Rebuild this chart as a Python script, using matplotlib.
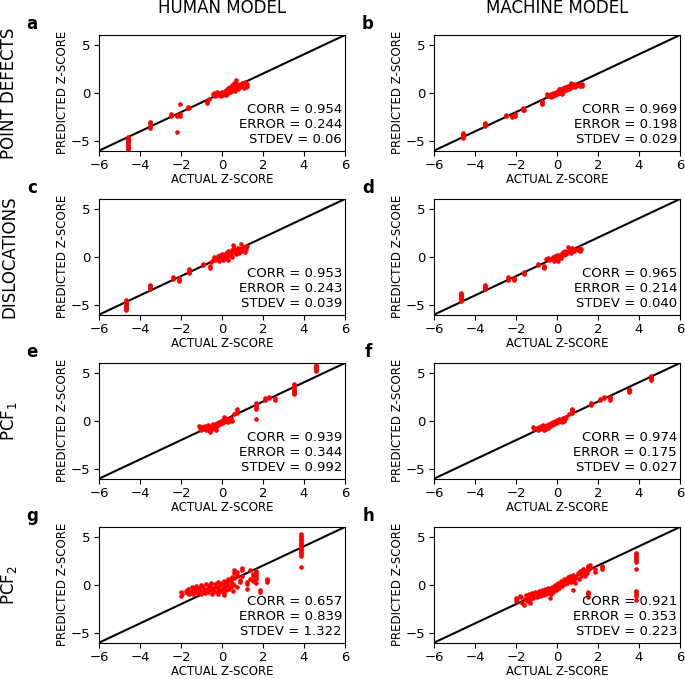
#!/usr/bin/python3
# -*- coding: utf-8 -*-

#=========================# Required libraries ===========================================================
import numpy as np
import matplotlib
matplotlib.use("Agg")
import matplotlib.pyplot as plt
#======================================================================================================

# Data (actual z-score, predicted z-score) =============================================================
# a: point defects, human model
pts_a = [(-4.6, -4.6), (-4.6, -4.7), (-4.6, -4.8), (-4.6, -4.9), (-4.6, -5.0), (-4.6, -5.1), (-4.6, -5.2),
         (-4.6, -5.3), (-4.6, -5.4), (-4.6, -5.5), (-4.6, -5.6), (-4.6, -5.7), (-4.6, -5.8), (-4.6, -5.9),
         (-4.6, -6.0), (-3.5, -3.0), (-3.5, -3.15), (-3.5, -3.45), (-3.5, -3.6), (-2.5, -2.2), (-2.5, -2.35),
         (-2.2, -2.3), (-2.2, -2.4), (-2.2, -4.1), (-2.05, -2.2), (-2.05, -2.35), (-2.05, -1.2),
         (-1.65, -1.45), (-1.65, -1.55), (-1.6, -1.6), (-0.75, -0.85), (-0.75, -1.0), (-0.75, -1.1),
         (-0.65, -0.6), (-0.45, -0.1), (-0.4, 0.0), (-0.35, -0.3), (-0.3, -0.2), (-0.25, 0.1), (-0.2, -0.1),
         (-0.15, -0.25), (-0.1, 0.0), (-0.05, -0.3), (0.0, 0.1), (0.0, -0.2), (0.05, 0.0), (0.1, -0.1),
         (0.15, 0.2), (0.2, -0.2), (0.2, 0.3), (0.25, 0.1), (0.3, 0.5), (0.35, 0.2), (0.4, 0.6), (0.45, 0.3),
         (0.5, 0.8), (0.55, 0.4), (0.6, 0.5), (0.65, 0.2), (0.7, 1.3), (0.7, 0.6), (0.75, 0.9), (0.8, 0.4),
         (0.9, 0.7), (1.0, 0.8), (1.05, 0.5), (1.1, 1.1), (1.15, 0.6), (1.2, 0.9), (1.2, 0.7), (0.3, 0.0),
         (0.4, 0.1), (0.5, 0.2), (-0.1, -0.1), (0.6, 1.0), (0.8, 0.8), (0.9, 0.6), (1.0, 1.0)]
# b: point defects, machine model
pts_b = [(-4.6, -4.2), (-4.6, -4.3), (-4.6, -4.4), (-4.6, -4.5), (-4.6, -4.6), (-4.6, -4.7),
         (-3.5, -3.1), (-3.5, -3.2), (-3.5, -3.3), (-3.5, -3.4), (-2.5, -2.3), (-2.5, -2.45),
         (-2.2, -2.35), (-2.2, -2.5), (-2.05, -2.2), (-2.05, -2.35), (-1.65, -1.6), (-1.65, -1.75),
         (-1.6, -1.8), (-0.75, -0.8), (-0.75, -0.95), (-0.75, -1.1), (-0.75, -1.2), (-0.5, -0.1),
         (-0.5, -0.3), (-0.4, -0.3), (-0.3, -0.4), (-0.2, -0.3), (-0.1, -0.2), (-0.05, 0.1), (0.0, -0.1),
         (0.05, 0.2), (0.1, 0.0), (0.15, 0.3), (0.2, 0.1), (0.25, -0.1), (0.3, 0.5), (0.35, 0.2), (0.4, 0.6),
         (0.45, 0.3), (0.5, 0.5), (0.55, 0.7), (0.6, 0.4), (0.7, 1.0), (0.75, 0.6), (0.8, 0.7), (0.9, 0.6),
         (1.0, 0.8), (1.1, 0.7), (1.2, 0.9), (1.2, 0.7), (0.1, 0.4), (-0.2, 0.0), (0.3, 0.3), (0.65, 0.8),
         (0.85, 0.9), (-0.3, -0.1), (0.2, 0.4), (1.05, 0.9)]
# c: dislocations, human model
pts_c = [(-4.7, -4.5), (-4.7, -4.6), (-4.7, -4.7), (-4.7, -4.8), (-4.7, -4.9), (-4.7, -5.0), (-4.7, -5.1),
         (-4.7, -5.2), (-4.7, -5.3), (-4.7, -5.4), (-4.7, -5.5), (-3.5, -2.9), (-3.5, -3.0), (-3.5, -3.1),
         (-3.5, -3.2), (-3.5, -3.3), (-2.4, -2.1), (-2.4, -2.25), (-2.1, -2.2), (-2.1, -2.35), (-2.1, -2.5),
         (-1.6, -1.3), (-1.6, -1.45), (-1.6, -1.6), (-1.6, -1.7), (-0.95, -0.7), (-0.95, -0.8),
         (-0.6, -1.0), (-0.6, -1.15), (-0.55, -0.5), (-0.45, -0.3), (-0.4, 0.0), (-0.3, -0.2), (-0.2, 0.1),
         (-0.15, -0.4), (-0.1, 0.2), (0.0, -0.1), (0.0, 0.3), (0.05, -0.3), (0.1, 0.1), (0.15, -0.1),
         (0.2, 0.4), (0.25, 0.0), (0.3, 0.6), (0.35, 0.3), (0.4, 0.5), (0.45, 0.2), (0.5, 0.7), (0.55, 1.2),
         (0.6, 0.5), (0.65, 0.8), (0.7, 0.3), (0.75, 0.6), (0.8, 0.9), (0.85, 0.4), (0.9, 0.7), (0.95, 1.3),
         (1.0, 0.9), (1.05, 1.0), (1.1, 0.5), (1.15, 0.8), (1.2, 1.1), (0.3, -0.3), (0.5, 0.0),
         (-0.35, -0.3), (0.1, -0.2), (0.6, 0.9), (1.0, 0.6)]
# d: dislocations, machine model
pts_d = [(-4.7, -3.8), (-4.7, -3.9), (-4.7, -4.0), (-4.7, -4.1), (-4.7, -4.2), (-4.7, -4.3), (-4.7, -4.4),
         (-4.7, -4.5), (-4.7, -4.6), (-3.5, -2.9), (-3.5, -3.0), (-3.5, -3.1), (-3.5, -3.2), (-3.5, -3.3),
         (-2.4, -2.1), (-2.4, -2.25), (-2.4, -2.4), (-2.1, -2.2), (-2.1, -2.3), (-2.1, -2.4),
         (-1.6, -1.6), (-1.6, -1.7), (-1.6, -1.8), (-0.95, -0.7), (-0.95, -0.85), (-0.65, -1.0),
         (-0.65, -1.1), (-0.65, -1.2), (-0.55, -0.2), (-0.45, -0.1), (-0.4, -0.3), (-0.3, -0.2), (-0.2, 0.0),
         (-0.15, -0.4), (-0.1, 0.1), (0.0, -0.2), (0.0, 0.2), (0.05, -0.4), (0.1, 0.0), (0.15, 0.2),
         (0.2, -0.1), (0.25, 0.3), (0.3, 0.5), (0.35, 0.2), (0.4, 0.6), (0.45, 0.3), (0.5, 0.5), (0.55, 1.0),
         (0.6, 0.6), (0.65, 0.8), (0.7, 0.4), (0.8, 0.7), (0.85, 0.6), (0.9, 0.8), (1.0, 0.7), (1.05, 0.9),
         (1.1, 0.6), (1.15, 0.8), (-0.05, -0.3), (0.2, 0.3), (0.75, 0.9)]
# e: PCF1, human model
pts_e = [(4.6, 5.2), (4.6, 5.3), (4.6, 5.4), (4.6, 5.5), (4.6, 5.6), (4.6, 5.7), (4.6, 5.8),
         (3.5, 2.8), (3.5, 2.9), (3.5, 3.0), (3.5, 3.1), (3.5, 3.2), (3.5, 3.3), (3.5, 3.5), (3.5, 3.7),
         (3.5, 3.8), (2.6, 2.2), (2.6, 2.4), (2.3, 2.4), (2.3, 2.5), (2.1, 2.2), (2.1, 2.4),
         (1.65, 1.2), (1.65, 1.35), (1.65, 1.5), (1.65, 1.65), (1.65, 1.8), (1.65, 0.2), (0.75, 0.8),
         (0.75, 1.0), (0.75, 1.2), (0.6, 0.7), (-1.1, -0.5), (-1.05, -0.7), (-1.0, -0.9), (-0.95, -0.6),
         (-0.9, -0.8), (-0.85, -0.5), (-0.8, -1.0), (-0.75, -0.7), (-0.7, -0.4), (-0.65, -0.9),
         (-0.6, -1.2), (-0.6, -0.6), (-0.55, -0.8), (-0.5, -0.5), (-0.45, -0.3), (-0.4, -0.7),
         (-0.35, -0.4), (-0.3, -0.6), (-0.25, -0.2), (-0.2, -0.4), (-0.15, -0.1), (-0.1, -0.3), (-0.05, 0.0),
         (0.0, -0.2), (0.05, 0.1), (0.1, -0.1), (0.15, 0.3), (0.2, 0.0), (0.25, 0.2), (0.3, -0.1),
         (0.35, 0.2), (0.4, 0.1), (0.45, 0.3), (0.5, 0.0), (0.1, 0.4), (-0.3, -0.9), (-1.0, -0.6),
         (-0.8, -0.6), (-0.5, -0.8)]
# f: PCF1, machine model
pts_f = [(4.6, 4.2), (4.6, 4.3), (4.6, 4.4), (4.6, 4.5), (4.6, 4.6), (3.5, 3.0), (3.5, 3.1), (3.5, 3.2),
         (3.5, 3.3), (2.6, 2.2), (2.6, 2.35), (2.6, 2.45), (2.3, 2.4), (2.3, 2.5), (2.1, 2.2), (2.1, 2.3),
         (1.65, 1.6), (1.65, 1.7), (1.65, 1.8), (0.75, 0.8), (0.75, 0.9), (0.75, 1.0), (0.75, 1.1),
         (0.75, 1.2), (0.6, 0.7), (-1.15, -0.6), (-1.1, -0.8), (-1.0, -0.7), (-0.95, -0.9), (-0.9, -0.6),
         (-0.85, -0.8), (-0.8, -0.5), (-0.75, -0.7), (-0.7, -0.4), (-0.65, -1.0), (-0.6, -0.6),
         (-0.55, -0.8), (-0.5, -0.4), (-0.45, -0.7), (-0.4, -0.3), (-0.35, -0.5), (-0.3, -0.2),
         (-0.25, -0.4), (-0.2, -0.1), (-0.15, -0.3), (-0.1, 0.0), (-0.05, -0.2), (0.0, 0.1), (0.05, -0.1),
         (0.1, 0.2), (0.15, 0.0), (0.2, 0.1), (0.25, -0.1), (0.3, 0.3), (0.35, 0.0), (0.4, 0.2),
         (0.45, 0.4), (-0.5, -0.6), (-0.2, -0.3), (0.0, -0.1)]
# g: PCF2, human model
pts_g = [(3.85, 3.0), (3.85, 3.15), (3.85, 3.3), (3.85, 3.45), (3.85, 3.6), (3.85, 3.75), (3.85, 3.9),
         (3.85, 4.05), (3.85, 4.2), (3.85, 4.35), (3.85, 4.5), (3.85, 4.65), (3.85, 4.8), (3.85, 4.95),
         (3.85, 5.1), (3.85, 5.25), (3.85, 1.9), (2.2, 0.3), (2.2, 0.5), (2.2, 0.65), (1.85, -0.5),
         (1.85, -0.7), (1.65, 0.6), (1.65, 0.8), (1.65, 1.0), (1.65, 1.2), (1.65, 1.4), (1.65, 0.2),
         (1.5, 0.9), (1.5, 1.1), (1.5, 0.4), (1.35, 0.6), (1.35, 1.5), (1.2, 0.1), (1.2, 0.3), (1.2, -0.4),
         (1.0, 1.5), (1.0, 1.7), (1.0, 0.9), (0.9, 0.3), (0.9, 0.5), (0.75, 1.0), (0.75, 1.3), (0.75, -0.2),
         (0.6, 1.2), (0.6, 1.5), (0.6, 0.7), (-2.0, -0.7), (-2.0, -1.2), (-1.95, -1.0), (-1.75, -0.6),
         (-1.7, -0.8), (-1.65, -0.4), (-1.5, -0.6), (-1.45, -0.2), (-1.4, -0.9), (-1.35, -0.4),
         (-1.3, -0.7), (-1.25, -0.1), (-1.2, -0.5), (-1.15, -0.8), (-1.1, -0.3), (-1.05, -0.6),
         (-1.0, -1.0), (-0.95, -0.2), (-0.9, -0.5), (-0.85, -0.8), (-0.8, 0.1), (-0.75, -0.4), (-0.7, -0.7),
         (-0.65, -0.2), (-0.6, -0.5), (-0.55, 0.2), (-0.5, -0.9), (-0.45, -0.3), (-0.4, -0.6), (-0.35, 0.1),
         (-0.3, -0.2), (-0.25, -0.7), (-0.2, 0.3), (-0.15, -0.4), (-0.1, 0.0), (-0.05, -0.6), (0.0, 0.2),
         (0.05, -0.3), (0.1, -1.1), (0.1, 0.4), (0.15, -0.1), (0.2, -0.5), (0.25, 0.3), (0.3, 0.0),
         (0.35, -0.4), (0.4, 0.5), (0.45, -0.2), (0.5, 0.2), (0.55, -0.6), (0.6, 0.0), (0.5, 0.8),
         (0.3, 0.6), (-0.6, 0.0), (-1.0, 0.0), (-1.6, -0.9), (-0.2, -0.9), (0.1, -0.8)]
# h: PCF2, machine model
pts_h = [(3.85, 3.3), (3.85, 3.15), (3.85, 3.0), (3.85, 2.85), (3.85, 2.7), (3.85, 2.55), (3.85, 2.4),
         (3.85, 1.6), (3.85, -0.6), (3.85, -0.75), (3.85, -0.9), (3.85, -1.2), (3.85, -1.6), (2.2, 1.6),
         (2.2, 1.8), (2.2, 2.0), (1.85, 1.3), (1.85, 1.6), (1.5, -0.7), (1.5, -0.85), (1.5, -1.0),
         (1.5, -1.3), (1.5, 1.5), (1.5, 1.8), (1.5, 2.0), (1.6, 2.1), (1.6, 1.7), (-2.0, -1.4),
         (-2.0, -1.7), (-1.95, -1.5), (-1.75, -1.3), (-1.7, -1.9), (-1.6, -2.1), (-1.55, -1.5),
         (-1.5, -1.1), (-1.45, -1.7), (-1.4, -1.4), (-1.35, -1.0), (-1.3, -1.6), (-1.25, -1.2),
         (-1.2, -0.8), (-1.15, -1.4), (-1.1, -1.0), (-1.05, -0.7), (-1.0, -1.3), (-0.95, -0.9),
         (-0.9, -0.6), (-0.85, -1.2), (-0.8, -0.8), (-0.75, -0.5), (-0.7, -1.1), (-0.65, -0.7),
         (-0.6, -0.4), (-0.55, -1.0), (-0.5, -0.6), (-0.45, -0.3), (-0.4, -0.8), (-0.35, -1.4),
         (-0.3, -0.5), (-0.25, -0.2), (-0.2, -0.7), (-0.15, -0.3), (-0.1, 0.0), (-0.05, -0.5), (0.0, -0.1),
         (0.05, 0.2), (0.1, -0.3), (0.15, 0.1), (0.2, 0.4), (0.25, -0.1), (0.3, 0.3), (0.35, 0.6),
         (0.4, 0.1), (0.45, 0.5), (0.5, 0.2), (0.55, 0.8), (0.6, 0.4), (0.65, 0.9), (0.7, 0.3), (0.75, 0.7),
         (0.8, -0.5), (0.8, 1.0), (0.85, 0.5), (0.9, 0.2), (0.95, 0.8), (1.0, 1.2), (1.05, 0.6), (1.1, 1.4),
         (1.15, 0.9), (1.2, 1.1), (1.25, 1.6), (1.3, 1.3), (1.35, 0.9), (1.4, 1.5), (1.45, 1.2),
         (-1.8, -1.2), (-1.3, -1.9), (-0.9, -1.0), (-0.6, -0.9), (-0.3, -0.9), (0.0, -0.4), (0.4, 0.4)]

panel_points = [pts_a, pts_b, pts_c, pts_d, pts_e, pts_f, pts_g, pts_h]
panel_letters = ["a", "b", "c", "d", "e", "f", "g", "h"]
corr_vals = ["0.954", "0.969", "0.953", "0.965", "0.939", "0.974", "0.657", "0.921"]
error_vals = ["0.244", "0.198", "0.243", "0.214", "0.344", "0.175", "0.839", "0.353"]
stdev_vals = ["0.06", "0.029", "0.039", "0.040", "0.992", "0.027", "1.322", "0.223"]
col_titles = ["HUMAN MODEL", "MACHINE MODEL"]
row_titles = ["POINT DEFECTS", "DISLOCATIONS", "PCF$_1$", "PCF$_2$"]
#======================================================================================================

# Figure layout ========================================================================================
DPI = 100
W, H = 685, 679
fig = plt.figure(figsize=(W / DPI, H / DPI), dpi=DPI)

ax_left_px = [99, 434]
ax_w_px = 246
ax_top_px = [35, 199, 363, 527]
ax_h_px = 115.7
letter_x_px = [32, 368]
#======================================================================================================

# Plot the Data =======================================================================================
for i, pts in enumerate(panel_points):
    r, c = divmod(i, 2)
    left = ax_left_px[c] / W
    bottom = 1 - (ax_top_px[r] + ax_h_px) / H
    ax = fig.add_axes([left, bottom, ax_w_px / W, ax_h_px / H])

    xy = np.array(pts)
    ax.plot([-6, 6], [-6, 6], color="black", lw=1.5, zorder=1)
    ax.scatter(xy[:, 0], xy[:, 1], s=11, color="red", linewidths=0, zorder=2)

    ax.set_xlim(-6, 6)
    ax.set_ylim(-6, 6)
    ax.set_xticks([-6, -4, -2, 0, 2, 4, 6])
    ax.set_yticks([-5, 0, 5])
    ax.tick_params(labelsize=9.5, pad=2.5)
    ax.set_xlabel("ACTUAL Z-SCORE", fontsize=8.5, labelpad=0.5)
    ax.set_ylabel("PREDICTED Z-SCORE", fontsize=8.5, labelpad=1.5)

    ax.text(0.988, 0.04, "CORR = %s\nERROR = %s\nSTDEV = %s" % (corr_vals[i], error_vals[i], stdev_vals[i]),
            transform=ax.transAxes, ha="right", va="bottom", fontsize=9.5, multialignment="right")

    # panel letter
    fig.text(letter_x_px[c] / W, 1 - (ax_top_px[r] - 11) / H, panel_letters[i],
             fontsize=12, fontweight="bold", ha="center", va="center")

# column and row titles
for c, t in enumerate(col_titles):
    fig.text((ax_left_px[c] + ax_w_px / 2) / W, 1 - 8 / H, t, fontsize=12, ha="center", va="center")
for r, t in enumerate(row_titles):
    fig.text(9 / W, 1 - (ax_top_px[r] + ax_h_px / 2) / H, t, fontsize=12, rotation=90,
             ha="center", va="center")

plt.savefig("out.png", dpi=DPI)
plt.close()
